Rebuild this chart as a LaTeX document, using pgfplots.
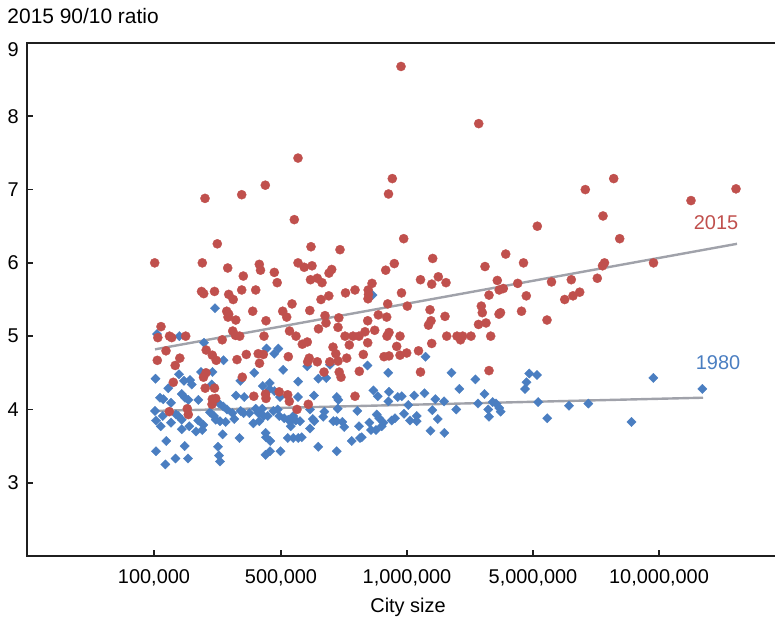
\documentclass[border=0pt]{standalone}
\usepackage{fontspec}
\setmainfont{Liberation Sans}
\usepackage{pgfplots}
\pgfplotsset{compat=1.18}
\definecolor{redpt}{RGB}{192,80,77}
\definecolor{bluept}{RGB}{74,126,193}
\definecolor{trend}{RGB}{160,162,170}
\pgfplotstableread{
x y
401 8.68
478.7 7.90
298 7.43
392.3 7.15
388.5 6.94
265.3 7.06
241.7 6.93
205 6.88
294.3 6.59
613.7 7.15
585.3 7.00
691 6.85
736 7.01
603 6.64
537.3 6.50
619.7 6.33
403.7 6.33
432.7 6.06
505.7 6.12
523.5 6.00
485 5.95
604.5 6.00
602.5 5.96
653.5 6.00
420.5 5.77
438.3 5.81
431.7 5.71
446 5.73
497.3 5.76
517.7 5.72
551.5 5.74
571.3 5.77
597.3 5.79
401.5 5.59
489 5.56
499.2 5.63
503.3 5.65
526.3 5.55
564.7 5.50
573 5.55
579.7 5.60
407.3 5.41
430 5.36
481.3 5.41
482.3 5.32
445 5.27
431 5.21
428.5 5.15
499 5.30
500.5 5.32
521.5 5.34
478.5 5.16
486 5.18
547 5.22
400 5.00
446.7 5.00
457 5.00
460.5 4.95
462.7 5.00
471 5.00
490.7 5.00
431.7 4.90
400 4.74
406.7 4.77
418.5 4.80
420.5 4.51
489 4.53
217.3 6.26
154.7 6.00
202.3 6.00
227.7 5.93
243.3 5.82
259.3 5.98
260.5 5.90
274.3 5.87
277.2 5.73
298 6.00
304.2 5.94
312 5.96
311 6.22
340 6.18
310.5 5.77
317.3 5.79
322 5.73
329 5.86
331.7 5.91
394.3 5.99
385.7 5.90
201.5 5.61
203.7 5.58
214.5 5.61
241.7 5.63
255.7 5.63
228.7 5.57
233.2 5.50
292 5.44
226.7 5.34
228.7 5.30
228 5.26
235.8 5.22
252.7 5.34
266 5.21
282.7 5.34
286.7 5.26
309.8 5.35
321 5.50
328.8 5.55
325 5.28
326 5.18
338.8 5.25
345.5 5.59
355 5.63
368.2 5.63
368.5 5.57
368 5.51
372 5.72
378.3 5.29
386.7 5.26
387.7 5.44
367.7 5.21
338 5.12
318.5 5.10
289.5 5.07
296 5.00
302.3 4.89
307.3 4.92
264 5.00
232.7 5.07
235.5 5.01
239.7 5.00
222.2 4.95
161 5.13
157.8 4.98
169.5 5.00
171.7 4.98
185.7 5.00
166 4.80
206.2 4.81
212.3 4.74
216.2 4.67
237 4.68
246.3 4.75
258.2 4.76
263.3 4.75
259.5 4.63
288.3 4.72
309.2 4.70
307.7 4.65
317.3 4.65
329.8 4.65
333 4.85
335.8 4.76
338 4.66
346.7 4.70
349.3 4.88
363.3 4.75
367.7 4.91
384 4.72
389 4.73
396.7 4.86
345 5.00
353 5.00
359 5.00
365 5.06
374.7 5.08
387 5.00
389 5.05
359.3 4.52
339.2 4.51
341 4.44
324 4.51
157.3 4.67
179.8 4.70
175.2 4.60
173.3 4.37
206 4.50
203.5 4.44
205.2 4.29
214.5 4.29
242.3 4.44
279.2 4.24
287.7 4.20
253.8 4.18
265.5 4.21
266 4.15
355 4.18
212.3 4.14
215.7 4.15
212 4.07
289.3 4.11
297 4.00
169.3 3.97
187.3 4.01
188.3 3.93
308.3 4.07
}\reddata
\pgfplotstableread{
x y
215 5.38
157 5.03
179.3 5.00
204 4.91
266.5 4.83
274.3 4.76
278.3 4.83
372.5 5.56
155.5 4.42
179 4.48
201 4.51
212.5 4.51
223.5 4.67
184 4.39
190 4.40
191.7 4.34
168.3 4.29
211.7 4.34
160 4.16
163.3 4.14
181.7 4.21
185 4.16
188.3 4.13
171 4.09
198.3 4.13
219 4.08
223.3 4.04
236 4.19
244.3 4.17
254.3 4.50
240.3 4.39
262.7 4.32
269.7 4.36
269.5 4.28
274.3 4.25
283.2 4.54
298.2 4.38
280 4.17
298 4.17
155 3.98
162.7 3.91
156 3.85
160.7 3.77
171 3.82
176 3.93
178.3 3.91
181.7 3.86
181.7 3.73
189.3 3.77
196 3.70
198.3 3.85
203.3 3.79
202.3 3.72
210 3.96
214 3.91
215.7 3.86
220 3.84
225.7 3.83
227 4.00
232.3 3.95
234.3 3.87
240.7 3.98
243.7 3.95
249.3 3.95
255.7 4.01
258.3 3.95
262.3 4.01
263.7 3.91
267.7 3.91
259.3 3.84
253.3 3.81
273.3 3.98
277.7 4.00
279.3 3.91
284.3 3.88
288.3 3.86
291.7 3.85
293.3 3.91
295.7 3.85
290.7 3.77
222.7 3.66
239.5 3.61
166.3 3.57
184.7 3.50
218 3.49
265.7 3.68
266 3.62
270.3 3.57
287.7 3.61
293.3 3.61
298.3 3.61
156 3.43
175.5 3.33
188 3.33
165.3 3.25
219 3.37
220 3.29
265.5 3.38
270 3.43
280.5 3.43
307.3 4.59
367.5 4.60
425.5 4.72
388.2 4.50
451.5 4.50
318.3 4.42
326.2 4.43
330 4.61
314 4.19
336.7 4.17
338.3 4.13
373.3 4.26
377.7 4.18
389 4.24
388.3 4.11
397.7 4.17
401.7 4.18
414.3 4.19
424.5 4.22
435.3 4.14
444 4.11
310 4.00
324.3 3.97
337.7 4.01
357.3 3.98
408.3 4.06
432.3 3.99
300 3.84
312.7 3.87
314.3 3.84
323.3 3.90
333.3 3.84
336.7 3.84
342.3 3.83
376.7 3.93
379.3 3.88
383.3 3.82
381.7 3.77
369.3 3.82
371 3.72
376 3.72
391.7 3.85
395 3.88
404 3.94
410 3.85
416.7 3.91
416.7 3.84
437.7 3.87
310 3.74
344.3 3.76
359 3.77
301.7 3.62
351.7 3.57
360 3.61
361.7 3.62
430.5 3.71
444.3 3.68
318.3 3.49
336.7 3.43
475.3 4.41
459.3 4.28
484.5 4.21
529.3 4.49
537 4.47
526.5 4.37
525 4.28
653.3 4.43
702.3 4.28
456.3 4.00
478 4.08
488.2 4.00
489 3.90
492.7 4.10
496 4.08
499.3 4.02
500.7 3.97
538.2 4.10
547.3 3.88
569 4.05
588.3 4.08
631.5 3.83
}\bluedata
\begin{document}
\begin{tikzpicture}
\useasboundingbox (0,0) rectangle (775bp,-619bp);
\begin{axis}[
  at={(27bp,-556bp)}, anchor=south west,
  scale only axis, width=762bp, height=513bp,
  xmin=27, xmax=789, ymin=2, ymax=9,
  axis line style={line width=2bp, black!88},
  tick style={line width=1.6bp, black!88},
  major tick length=6bp,
  tick align=inside,
  xtick pos=lower, ytick pos=left,
  xtick={154,281,407,533,659},
  xticklabels={{100,000},{500,000},{1,000,000},{5,000,000},{10,000,000}},
  ytick={3,4,5,6,7,8},
  extra y ticks={9},
  extra y tick style={yticklabel style={yshift=-7bp}},
  /pgf/number format/assume math mode=true,
  ticklabel style={font=\fontsize{20}{24}\selectfont},
  xticklabel style={anchor=base, inner sep=0pt, yshift=-27bp},
  yticklabel style={anchor=east, inner sep=0pt, xshift=-8bp},
  xlabel={City size},
  xlabel style={font=\fontsize{20}{24}\selectfont, at={(axis description cs:0.5,0)}, anchor=base, inner sep=0pt, yshift=-56bp},
  clip=false,
]
\addplot[only marks, mark=square*, mark size=3.3bp, mark options={rotate=45, fill=bluept, draw=bluept, line width=0.3bp}] table[x=x,y=y] {\bluedata};
\addplot[only marks, mark=*, mark size=4.6bp, mark options={fill=redpt, draw=redpt, line width=0.3bp}] table[x=x,y=y] {\reddata};
\addplot[trend, line width=2.4bp] coordinates {(155,4.82) (737,6.26)};
\addplot[trend, line width=2.4bp] coordinates {(155,3.98) (703,4.16)};
\node[text=redpt, font=\fontsize{20}{24}\selectfont, inner sep=0pt] at (axis cs:716,6.55) {2015};
\node[text=bluept, font=\fontsize{20}{24}\selectfont, inner sep=0pt] at (axis cs:718,4.64) {1980};
\end{axis}
\node[anchor=base west, inner sep=0pt, font=\fontsize{21}{25}\selectfont] at (7.3bp,-23.3bp) {2015 90/10 ratio};
\end{tikzpicture}
\end{document}
